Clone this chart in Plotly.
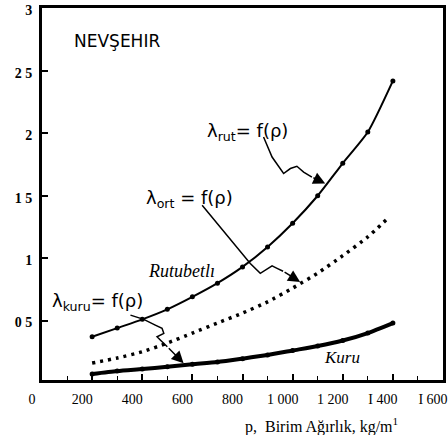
import plotly.graph_objects as go

# ---- data ----
density = [200, 300, 400, 500, 600, 700, 800, 900, 1000, 1100, 1200, 1300, 1400]
lam_rut = [0.37, 0.44, 0.51, 0.59, 0.69, 0.80, 0.93, 1.09, 1.28, 1.50, 1.76, 2.01, 2.42]
lam_kuru = [0.072, 0.096, 0.112, 0.13, 0.15, 0.168, 0.195, 0.224, 0.26, 0.296, 0.34, 0.40, 0.48]
density_ort = [200, 300, 400, 500, 600, 700, 800, 900, 1000, 1100, 1200, 1300, 1380]
lam_ort = [0.16, 0.20, 0.25, 0.32, 0.40, 0.48, 0.56, 0.65, 0.76, 0.88, 1.02, 1.17, 1.32]

x_tickvals = [0, 200, 400, 600, 800, 1000, 1200, 1400, 1600]
x_ticktext = ["0", "200", "400", "600", "800", "1 000", "1 200", "I 400", "I 600"]
y_tickvals = [0.5, 1, 1.5, 2, 2.5, 3]
y_ticktext = ["0 5", "1", "1 5", "2", "2 5", "3"]

# pointer squiggles (data units)
rut_path = [(884, 1.970), (918, 1.810), (964, 1.678), (991, 1.718), (1017, 1.736), (1044, 1.690), (1077, 1.650)]
rut_tip = (1130, 1.598)
ort_path = [(639, 1.424), (831, 0.958), (871, 0.878), (918, 0.938), (938, 0.918), (962, 0.895)]
ort_tip = (1030, 0.810)
kuru_path = [(353, 0.544), (406, 0.510), (452, 0.464), (479, 0.438), (486, 0.398), (459, 0.370), (472, 0.344), (500, 0.290)]
kuru_tip = (565, 0.158)

fig = go.Figure()
fig.add_trace(go.Scatter(x=density, y=lam_rut, mode="lines+markers",
                         line=dict(color="black", width=2, shape="spline", smoothing=0.6),
                         marker=dict(color="black", size=5), showlegend=False))
fig.add_trace(go.Scatter(x=density_ort, y=lam_ort, mode="lines",
                         line=dict(color="black", width=3.5, dash="3px,5px", shape="spline", smoothing=0.6),
                         showlegend=False))
fig.add_trace(go.Scatter(x=density, y=lam_kuru, mode="lines+markers",
                         line=dict(color="black", width=4, shape="spline", smoothing=0.6),
                         marker=dict(color="black", size=5), showlegend=False))

def path_str(pts):
    return "M " + " L ".join(f"{x},{y}" for x, y in pts)

shapes = []
annos = []
for pts, tip in [(rut_path, rut_tip), (ort_path, ort_tip), (kuru_path, kuru_tip)]:
    shapes.append(dict(type="path", xref="x", yref="y", path=path_str(pts),
                       line=dict(color="black", width=1.5)))
    annos.append(dict(x=tip[0], y=tip[1], ax=pts[-1][0], ay=pts[-1][1], axref="x", ayref="y",
                      xref="x", yref="y", text="", showarrow=True, arrowhead=2,
                      arrowsize=1.6, arrowwidth=1.5, arrowcolor="black", standoff=0))

sans = "DejaVu Sans"
serif = "Liberation Serif"
annos += [
    dict(x=118, y=2.736, xref="x", yref="y", text="NEVŞEHIR", showarrow=False,
         xanchor="left", yanchor="middle", font=dict(family=sans, size=17, color="black")),
    dict(x=652, y=2.008, xref="x", yref="y", text="λ<sub>rut</sub>= f(ρ)", showarrow=False,
         xanchor="left", yanchor="middle", font=dict(family=sans, size=18, color="black")),
    dict(x=405, y=1.472, xref="x", yref="y", text="λ<sub>ort</sub> = f(ρ)", showarrow=False,
         xanchor="left", yanchor="middle", font=dict(family=sans, size=18, color="black")),
    dict(x=30, y=0.648, xref="x", yref="y", text="λ<sub>kuru</sub>= f(ρ)", showarrow=False,
         xanchor="left", yanchor="middle", font=dict(family=sans, size=18, color="black")),
    dict(x=413, y=0.896, xref="x", yref="y", text="<i>Rutubetlı</i>", showarrow=False,
         xanchor="left", yanchor="middle", font=dict(family=serif, size=18, color="black")),
    dict(x=1118, y=0.208, xref="x", yref="y", text="<i>Kuru</i>", showarrow=False,
         xanchor="left", yanchor="middle", font=dict(family=serif, size=17, color="black")),
    dict(x=0.698, y=-0.121, xref="paper", yref="paper", text="p,  Birim Ağırlık, kg/m<sup>1</sup>",
         showarrow=False, xanchor="center", yanchor="middle",
         font=dict(family=serif, size=16, color="black")),
]

fig.update_layout(
    width=448, height=435,
    margin=dict(l=42, r=5, t=8, b=55, autoexpand=False),
    paper_bgcolor="white", plot_bgcolor="white",
    shapes=shapes, annotations=annos,
    xaxis=dict(range=[0, 1600], tickmode="array", tickvals=x_tickvals, ticktext=x_ticktext,
               automargin=False,
               showgrid=False, zeroline=False, showline=True, linecolor="black", linewidth=3,
               mirror=True, ticks="inside", ticklen=6, tickwidth=1.5, tickcolor="black",
               minor=dict(tickmode="linear", tick0=0, dtick=100, ticks="inside", ticklen=4,
                          tickcolor="black", tickwidth=1),
               ticklabelshift=-10, ticklabelstandoff=4,
               tickfont=dict(family=serif, size=14, color="black")),
    yaxis=dict(range=[0.024, 3.004], tickmode="array", tickvals=y_tickvals, ticktext=y_ticktext,
               automargin=False, ticklabeloverflow="allow",
               showgrid=False, zeroline=False, showline=True, linecolor="black", linewidth=3,
               mirror=True, ticks="inside", ticklen=6, tickwidth=1.5, tickcolor="black",
               ticklabelshift=2, ticklabelstandoff=4,
               tickfont=dict(family=serif, size=14, color="black", weight="bold")),
)

fig.write_html("out.html", config={"displayModeBar": False},
               post_script="document.body.style.margin='0';")
